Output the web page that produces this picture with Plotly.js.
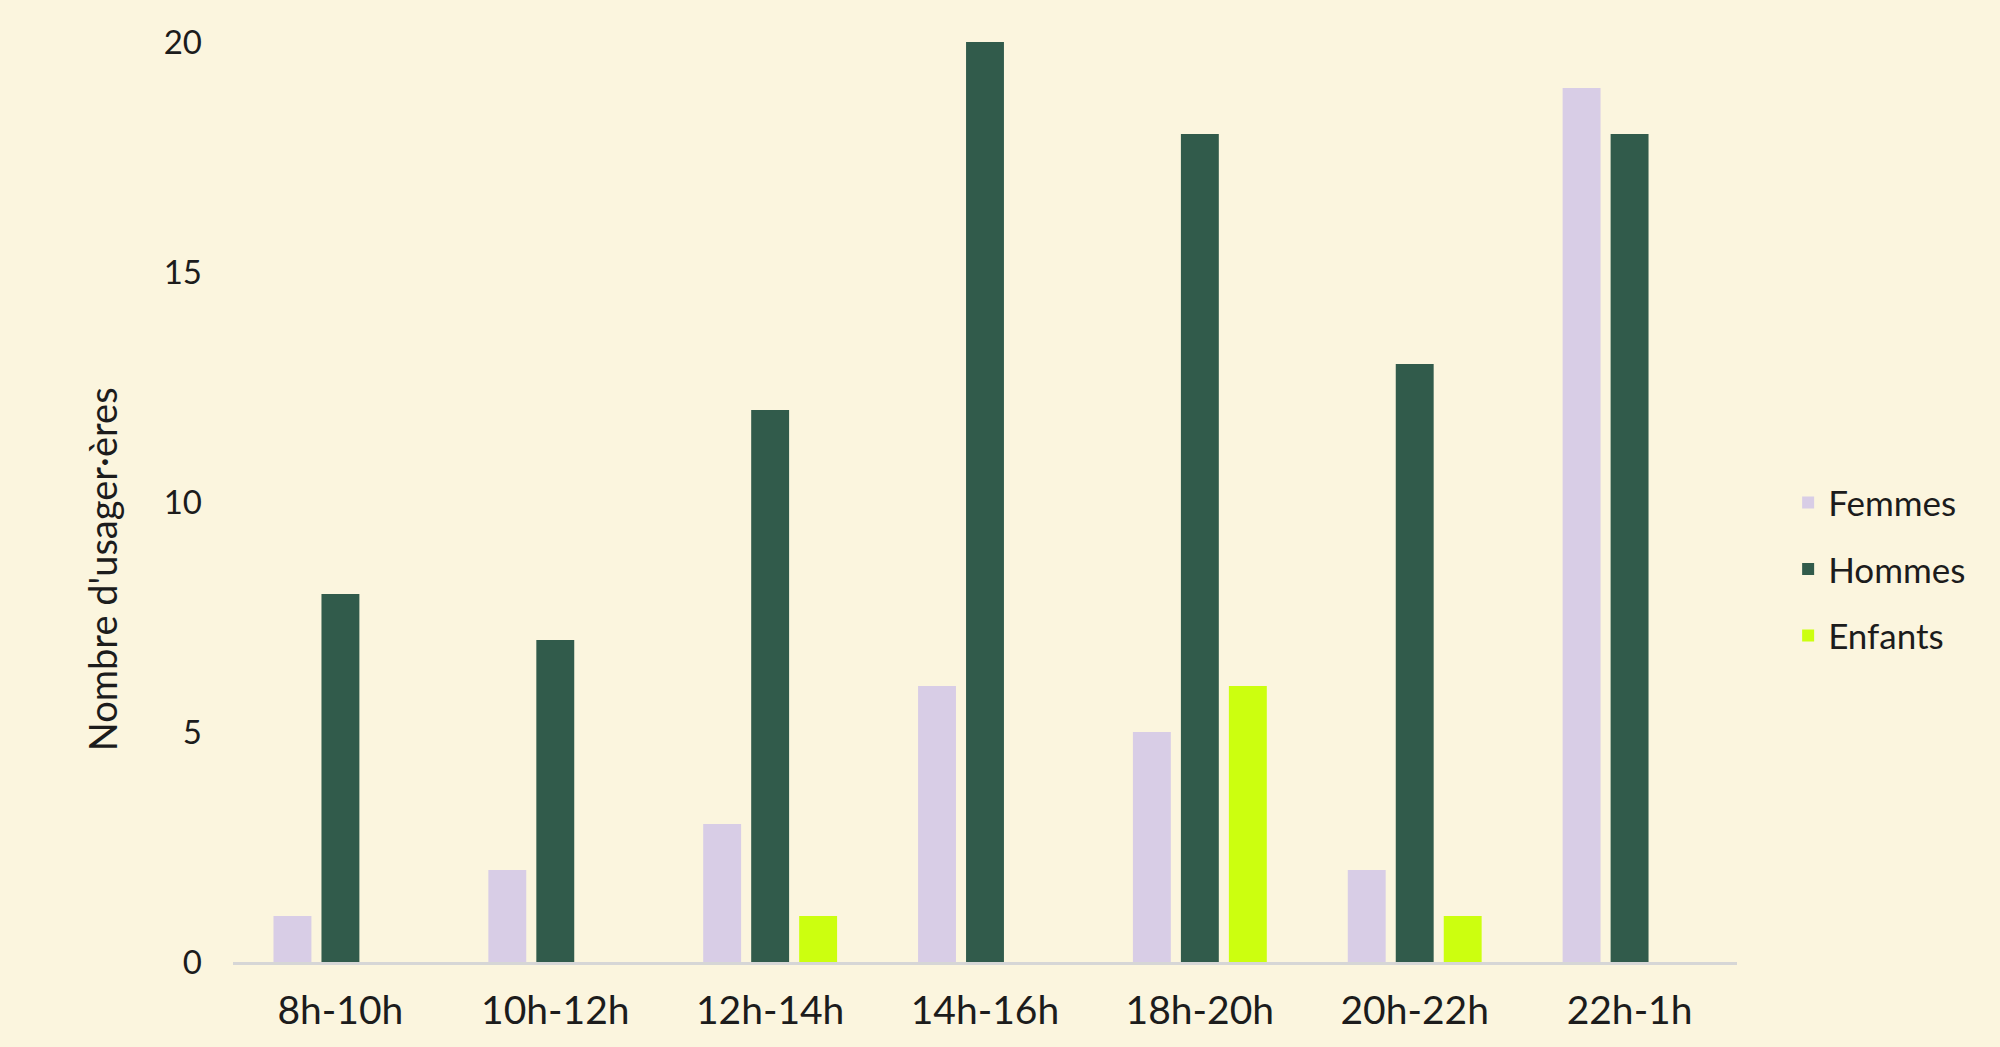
<!DOCTYPE html>
<html>
<head>
<meta charset="utf-8">
<script src="https://cdn.plot.ly/plotly-3.0.1.min.js"></script>
<style>
  html, body { margin: 0; padding: 0; background: #FBF5DE; }
  #chart { width: 2000px; height: 1047px; }
</style>
</head>
<body>
<div id="chart"></div>
<script>
const categories = ["8h-10h", "10h-12h", "12h-14h", "14h-16h", "18h-20h", "20h-22h", "22h-1h"];
const femmes  = [1, 2, 3, 6, 5, 2, 19];
const hommes  = [8, 7, 12, 20, 18, 13, 18];
const enfants = [null, null, 1, null, 6, 1, null];
const seriesNames = ["Femmes", "Hommes", "Enfants"];
const yTitle = "Nombre d'usager·ères";

const colors = ["#D8CDE6", "#315B4B", "#CCFF0F"];
const fontFamily = "Lato, 'Open Sans', sans-serif";
const textColor = "#1c1c1c";

const seriesValues = [femmes, hommes, enfants];
const traces = seriesValues.map((vals, i) => ({
  type: "bar",
  name: seriesNames[i],
  x: categories,
  y: vals,
  marker: { color: colors[i] },
  legendgroup: "g" + i,
  hoverinfo: "x+y+name"
}));

const layout = {
  width: 2000,
  height: 1047,
  paper_bgcolor: "#FBF5DE",
  plot_bgcolor: "#FBF5DE",
  margin: { l: 233, r: 263, t: 42, b: 85 },
  barmode: "group",
  bargap: 0.33,
  bargroupgap: 0.21,
  font: { family: fontFamily, color: textColor, size: 33 },
  xaxis: {
    type: "category",
    showgrid: false,
    zeroline: false,
    showline: true,
    linecolor: "#D6D6D6",
    linewidth: 3,
    ticks: "",
    ticklabelstandoff: 12,
    tickfont: { family: fontFamily, size: 39, color: textColor },
    fixedrange: true
  },
  yaxis: {
    range: [0, 20],
    tickvals: [0, 5, 10, 15, 20],
    showgrid: false,
    zeroline: false,
    showline: false,
    ticks: "",
    ticklabelstandoff: 30,
    tickfont: { family: fontFamily, size: 33, color: textColor },
    fixedrange: true
  },
  legend: {
    x: 1.034,
    xanchor: "left",
    y: 0.427,
    yanchor: "middle",
    font: { family: fontFamily, size: 35, color: textColor },
    bgcolor: "rgba(0,0,0,0)",
    tracegroupgap: 18,
    itemwidth: 30
  },
  annotations: [{
    text: yTitle,
    xref: "paper",
    yref: "paper",
    x: -0.0871,
    y: 0.427,
    xanchor: "center",
    yanchor: "middle",
    textangle: -90,
    showarrow: false,
    font: { family: fontFamily, size: 38, color: textColor }
  }]
};

Plotly.newPlot("chart", traces, layout, { displayModeBar: false, staticPlot: true });
</script>
</body>
</html>
